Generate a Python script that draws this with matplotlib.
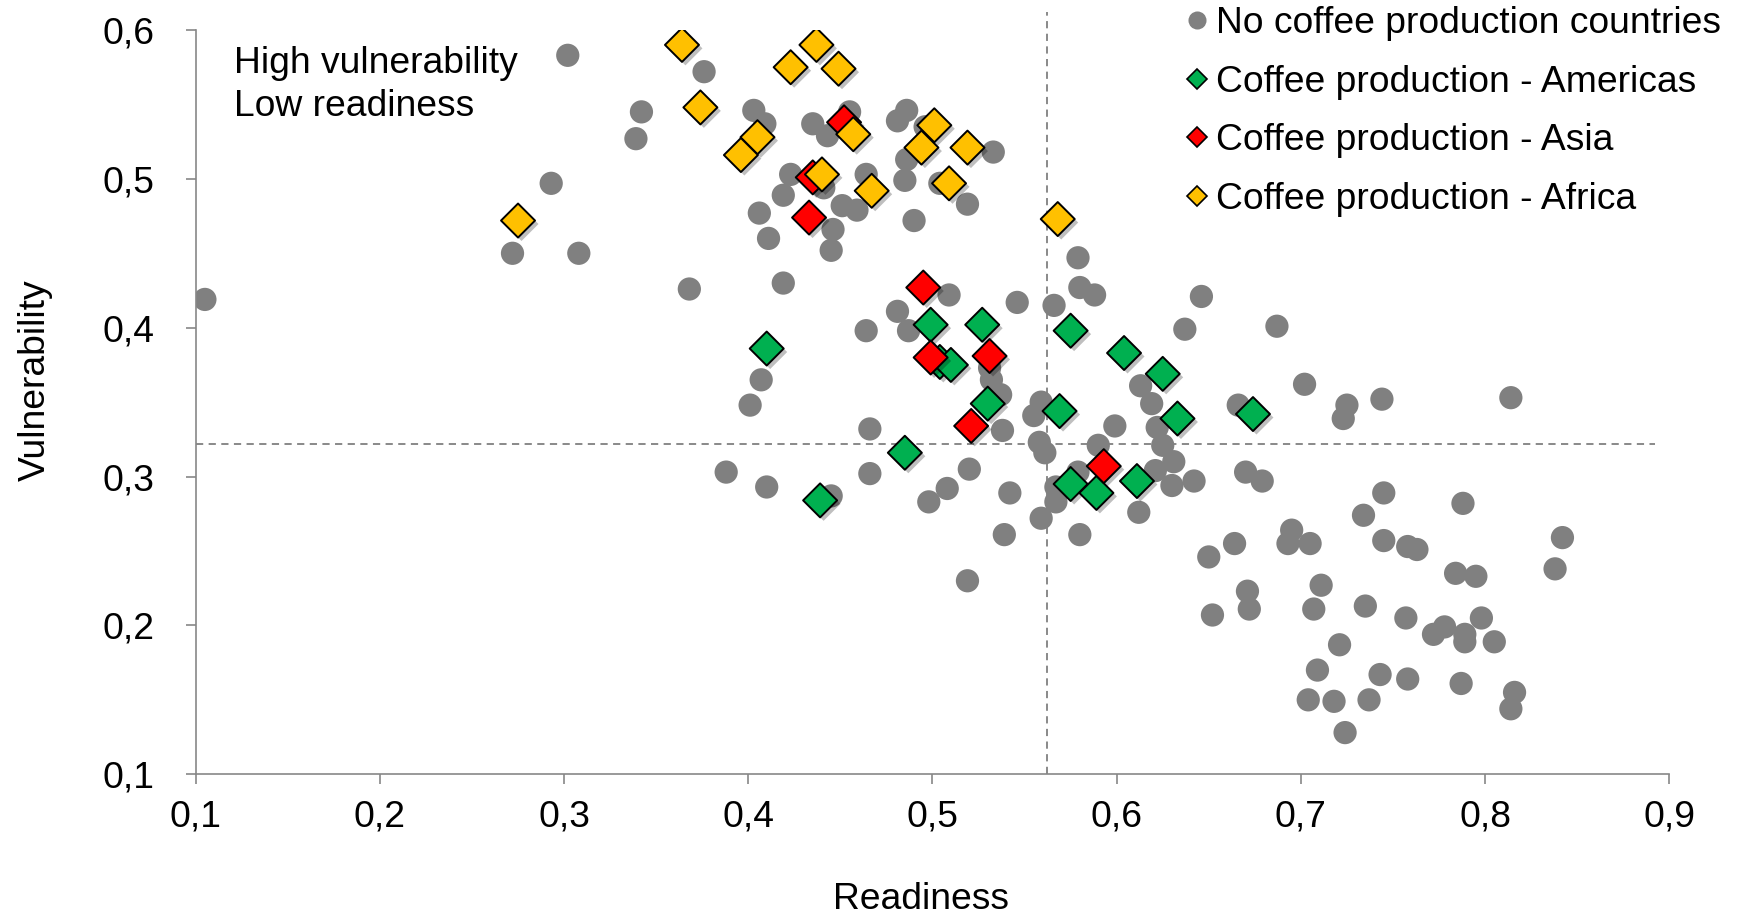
# ------------------------------------------------------------------------------
# -------------------------------------------------------------- IMPORT PACKAGES
import matplotlib
matplotlib.use('Agg')
import matplotlib.pyplot as plt
import matplotlib.patheffects as pe
from matplotlib.lines import Line2D

# ------------------------------------------------------------------------- DATA
# no coffee production countries (readiness, vulnerability)
gray_x = [0.105, 0.302, 0.342, 0.339, 0.293, 0.272, 0.308, 0.376, 0.403, 0.409,
          0.435, 0.443, 0.455, 0.481, 0.486, 0.496, 0.486, 0.533, 0.423, 0.441,
          0.464, 0.485, 0.504, 0.419, 0.406, 0.451, 0.459, 0.519, 0.490, 0.446,
          0.411, 0.445, 0.579, 0.580, 0.588, 0.368, 0.419, 0.509, 0.546, 0.566,
          0.481, 0.464, 0.487, 0.531, 0.532, 0.407, 0.537, 0.401, 0.538, 0.466,
          0.388, 0.410, 0.445, 0.466, 0.520, 0.508, 0.498, 0.542, 0.539, 0.519,
          0.559, 0.646, 0.637, 0.687, 0.613, 0.619, 0.622, 0.666, 0.702, 0.559,
          0.555, 0.599, 0.558, 0.561, 0.590, 0.625, 0.631, 0.621, 0.630, 0.642,
          0.670, 0.679, 0.579, 0.567, 0.567, 0.612, 0.580, 0.650, 0.664, 0.695,
          0.693, 0.705, 0.725, 0.723, 0.744, 0.814, 0.745, 0.788, 0.734, 0.745,
          0.758, 0.763, 0.842, 0.838, 0.784, 0.795, 0.671, 0.672, 0.711, 0.652,
          0.707, 0.735, 0.757, 0.772, 0.778, 0.789, 0.789, 0.798, 0.805, 0.721,
          0.709, 0.743, 0.758, 0.787, 0.704, 0.718, 0.737, 0.724, 0.816, 0.814]
gray_y = [0.419, 0.583, 0.545, 0.527, 0.497, 0.450, 0.450, 0.572, 0.546, 0.537,
          0.537, 0.529, 0.545, 0.539, 0.546, 0.535, 0.513, 0.518, 0.503, 0.494,
          0.503, 0.499, 0.497, 0.489, 0.477, 0.482, 0.479, 0.483, 0.472, 0.466,
          0.460, 0.452, 0.447, 0.427, 0.422, 0.426, 0.430, 0.422, 0.417, 0.415,
          0.411, 0.398, 0.398, 0.373, 0.365, 0.365, 0.355, 0.348, 0.331, 0.332,
          0.303, 0.293, 0.287, 0.302, 0.305, 0.292, 0.283, 0.289, 0.261, 0.230,
          0.272, 0.421, 0.399, 0.401, 0.361, 0.349, 0.333, 0.348, 0.362, 0.350,
          0.341, 0.334, 0.323, 0.316, 0.321, 0.321, 0.310, 0.304, 0.294, 0.297,
          0.303, 0.297, 0.303, 0.293, 0.283, 0.276, 0.261, 0.246, 0.255, 0.264,
          0.255, 0.255, 0.348, 0.339, 0.352, 0.353, 0.289, 0.282, 0.274, 0.257,
          0.253, 0.251, 0.259, 0.238, 0.235, 0.233, 0.223, 0.211, 0.227, 0.207,
          0.211, 0.213, 0.205, 0.194, 0.199, 0.194, 0.189, 0.205, 0.189, 0.187,
          0.170, 0.167, 0.164, 0.161, 0.150, 0.149, 0.150, 0.128, 0.155, 0.144]

# coffee production - Americas
amer_x = [0.499, 0.527, 0.575, 0.410, 0.504, 0.510, 0.530, 0.485, 0.439,
          0.604, 0.625, 0.633, 0.674, 0.569, 0.575, 0.589, 0.611]
amer_y = [0.402, 0.402, 0.398, 0.386, 0.377, 0.375, 0.349, 0.316, 0.284,
          0.383, 0.369, 0.339, 0.342, 0.344, 0.295, 0.289, 0.297]

# coffee production - Asia
asia_x = [0.452, 0.435, 0.433, 0.495, 0.499, 0.531, 0.521, 0.593]
asia_y = [0.538, 0.501, 0.474, 0.427, 0.380, 0.381, 0.334, 0.307]

# coffee production - Africa
afr_x = [0.275, 0.364, 0.437, 0.423, 0.449, 0.374, 0.405, 0.396,
         0.457, 0.501, 0.494, 0.519, 0.440, 0.467, 0.509, 0.568]
afr_y = [0.472, 0.590, 0.590, 0.575, 0.574, 0.548, 0.528, 0.516,
         0.530, 0.536, 0.521, 0.521, 0.503, 0.492, 0.497, 0.473]

labels = ['No coffee production countries', 'Coffee production - Americas',
          'Coffee production - Asia', 'Coffee production - Africa']

x_ticks = [0.1, 0.2, 0.3, 0.4, 0.5, 0.6, 0.7, 0.8, 0.9]
x_tick_labels = ['0,1', '0,2', '0,3', '0,4', '0,5', '0,6', '0,7', '0,8', '0,9']
y_ticks = [0.1, 0.2, 0.3, 0.4, 0.5, 0.6]
y_tick_labels = ['0,1', '0,2', '0,3', '0,4', '0,5', '0,6']

mean_readiness = 0.562
mean_vulnerability = 0.322

# ----------------------------------------------------------------------- STYLES
plt.rcParams['font.family'] = ['Liberation Sans', 'DejaVu Sans']
fnt = 26.8
c_gray = '#808080'
c_axis = '#878787'
c_green = '#00B050'
c_red = '#FF0000'
c_yel = '#FFC000'
shadow = [pe.SimplePatchShadow(offset=(2.5, -2.5), shadow_rgbFace='k', alpha=0.25),
          pe.Normal()]

# ------------------------------------------------------------------------- PLOT
fig = plt.figure(figsize=(17.41, 9.15), dpi=100)
ax = fig.add_axes([0.1124, 0.1538, 0.9588 - 0.1124, 0.9672 - 0.1538])

ax.scatter(gray_x, gray_y, s=280, c=c_gray, edgecolors='none', zorder=2)

for xs, ys, col in [(amer_x, amer_y, c_green), (asia_x, asia_y, c_red),
                    (afr_x, afr_y, c_yel)]:
    sc = ax.scatter(xs, ys, s=300, marker='D', c=col, edgecolors='k',
                    linewidths=1.4, zorder=3)
    sc.set_path_effects(shadow)

# mean lines
ax.plot([mean_readiness, mean_readiness], [0.1, 0.612], ls=(0, (4, 3)),
        color=c_gray, lw=1.3, clip_on=False, zorder=1)
ax.plot([0.1, 0.892], [mean_vulnerability, mean_vulnerability], ls=(0, (4, 3)),
        color=c_gray, lw=1.3, clip_on=False, zorder=1)

ax.text(0.121, 0.589, 'High vulnerability\nLow readiness', fontsize=fnt,
        va='top', ha='left', linespacing=1.3)

# axes
ax.set_xlim(0.1, 0.9)
ax.set_ylim(0.1, 0.6)
ax.set_xticks(x_ticks)
ax.set_xticklabels(x_tick_labels)
ax.set_yticks(y_ticks)
ax.set_yticklabels(y_tick_labels)
for s in ['top', 'right']:
    ax.spines[s].set_visible(False)
for s in ['left', 'bottom']:
    ax.spines[s].set_color(c_axis)
    ax.spines[s].set_linewidth(1.2)
ax.tick_params(axis='both', colors=c_axis, labelcolor='k', labelsize=fnt,
               length=7.5, width=1.2, direction='out')
ax.tick_params(axis='x', pad=11)
ax.tick_params(axis='y', pad=22)
ax.set_xlabel('Readiness', fontsize=fnt, labelpad=34)
ax.set_ylabel('Vulnerability', fontsize=fnt, labelpad=36)
ax.xaxis.label.set_x(0.492)
ax.yaxis.label.set_y(0.53)

# legend
hdls = [Line2D([], [], ls='', marker='o', ms=13, mfc=c_gray, mec='none'),
        Line2D([], [], ls='', marker='D', ms=10, mfc=c_green, mec='k', mew=1.2),
        Line2D([], [], ls='', marker='D', ms=10, mfc=c_red, mec='k', mew=1.2),
        Line2D([], [], ls='', marker='D', ms=10, mfc=c_yel, mec='k', mew=1.2)]
ax.legend(hdls, labels, loc='upper right', bbox_to_anchor=(0.9885, 0.993),
          bbox_transform=fig.transFigure, frameon=False, borderpad=0,
          borderaxespad=0, handlelength=0.6, handletextpad=0.2,
          labelspacing=0.63, fontsize=fnt)

fig.savefig('out.png', dpi=100)
